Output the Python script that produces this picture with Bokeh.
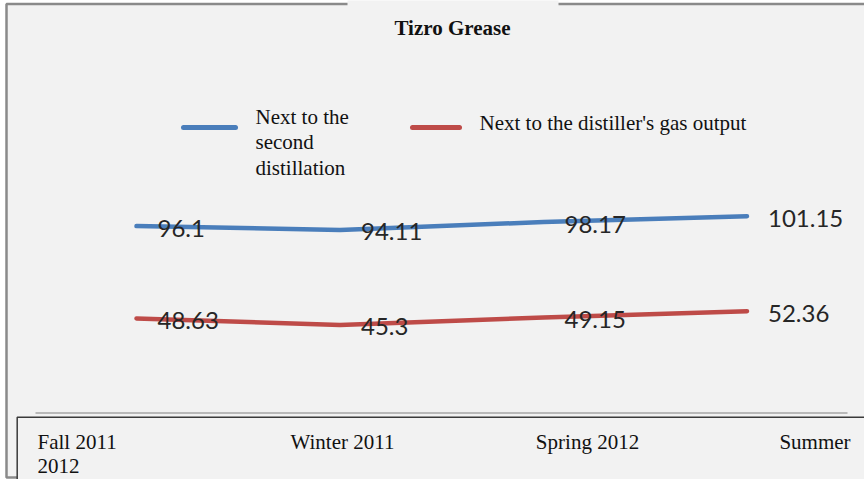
from bokeh.plotting import figure
from bokeh.models import Range1d, BoxAnnotation, Label, ColumnDataSource
from bokeh.core.properties import value
from bokeh.embed import file_html
from bokeh.resources import INLINE

# --- data -------------------------------------------------------------
seasons = ["Fall 2011\n2012", "Winter 2011", "Spring 2012", "Summer"]
second_distillation = [96.1, 94.11, 98.17, 101.15]
gas_output = [48.63, 45.3, 49.15, 52.36]
series_names = ["Next to the\nsecond\ndistillation", "Next to the distiller's gas output"]
series_colors = ["#4a7ebb", "#be4b48"]
title_text = "Tizro Grease"

# --- canvas geometry (pixels) ------------------------------------------
W, H = 864, 479
X0, XS = 136.0, 203.5      # pixel of the first season, pixels per season step
Y0, YS = 412.5, 1.945      # pixel of the zero line, pixels per unit


def dx(px):
    return (px - X0) / XS


def dy(py):
    return (Y0 - py) / YS


p = figure(width=W, height=H, output_backend="svg", toolbar_location=None,
           x_range=Range1d(dx(0), dx(W)), y_range=Range1d(dy(H), dy(0)),
           x_axis_location=None, y_axis_location=None, min_border=0)
p.outline_line_color = None
p.background_fill_color = "white"
p.border_fill_color = "white"
p.grid.visible = False

BG = "#f2f2f2"
serif = "Liberation Serif"
INK = "#111111"


def panel(left, right, top, bottom, line_color=None, line_width=1):
    p.add_layout(BoxAnnotation(left=dx(left), right=dx(right), top=dy(top), bottom=dy(bottom),
                               fill_color=BG, fill_alpha=1, line_color=line_color,
                               line_alpha=1, line_width=line_width, level="underlay"))


# chart area with its frame
panel(6, W + 20, 3.5, 477, "#8a8a8a", 2.5)
panel(347, 558, -2, 8)
# category panel at the bottom
panel(16.7, W + 20, 416.7, H + 20, "#3a3a3a", 1.5)

# zero line
p.segment(x0=[dx(35)], y0=[0], x1=[dx(847)], y1=[0], line_color="#a6a6a6", line_width=1.5)

xs = list(range(len(seasons)))
for vals, col in zip((second_distillation, gas_output), series_colors):
    p.line(xs, vals, line_color=col, line_width=4.5, line_cap="round", line_join="round")

# value labels
for vals in (second_distillation, gas_output):
    src = ColumnDataSource(dict(x=xs, y=vals, t=[f"{v:g}" for v in vals]))
    p.text("x", "y", text="t", source=src, x_offset=21, y_offset=2,
           text_align="left", text_baseline="middle", text_font=value("Lato"),
           text_font_size="24px", text_color="#262626")

# season labels
shift = [-99, 2.5, 44, 68]
align = ["left", "center", "center", "center"]
for i, s in enumerate(seasons):
    p.text([i], [dy(429)], text=[s], x_offset=shift[i], text_align=align[i],
           text_baseline="top", text_font=value(serif), text_font_size="21px",
           text_color=INK, text_line_height=1.02)

# title
p.add_layout(Label(x=dx(452), y=dy(27), text=title_text, text_align="center",
                   text_baseline="middle", text_font=serif, text_font_style="bold",
                   text_font_size="21px", text_color=INK))

# legend: swatch followed by its label
key_x = [(183, 235, 255, 104), (412, 459, 479, 110)]
for (a, b, t, top), name, col in zip(key_x, series_names, series_colors):
    p.segment(x0=[dx(a)], y0=[dy(127)], x1=[dx(b)], y1=[dy(127)], line_color=col,
              line_width=5, line_cap="round")
    p.text([dx(t)], [dy(top)], text=[name], text_align="left", text_baseline="top",
           text_font=value(serif), text_font_size="21px", text_color=INK,
           text_line_height=1.07)

open("out.html", "w").write(file_html(p, INLINE))
